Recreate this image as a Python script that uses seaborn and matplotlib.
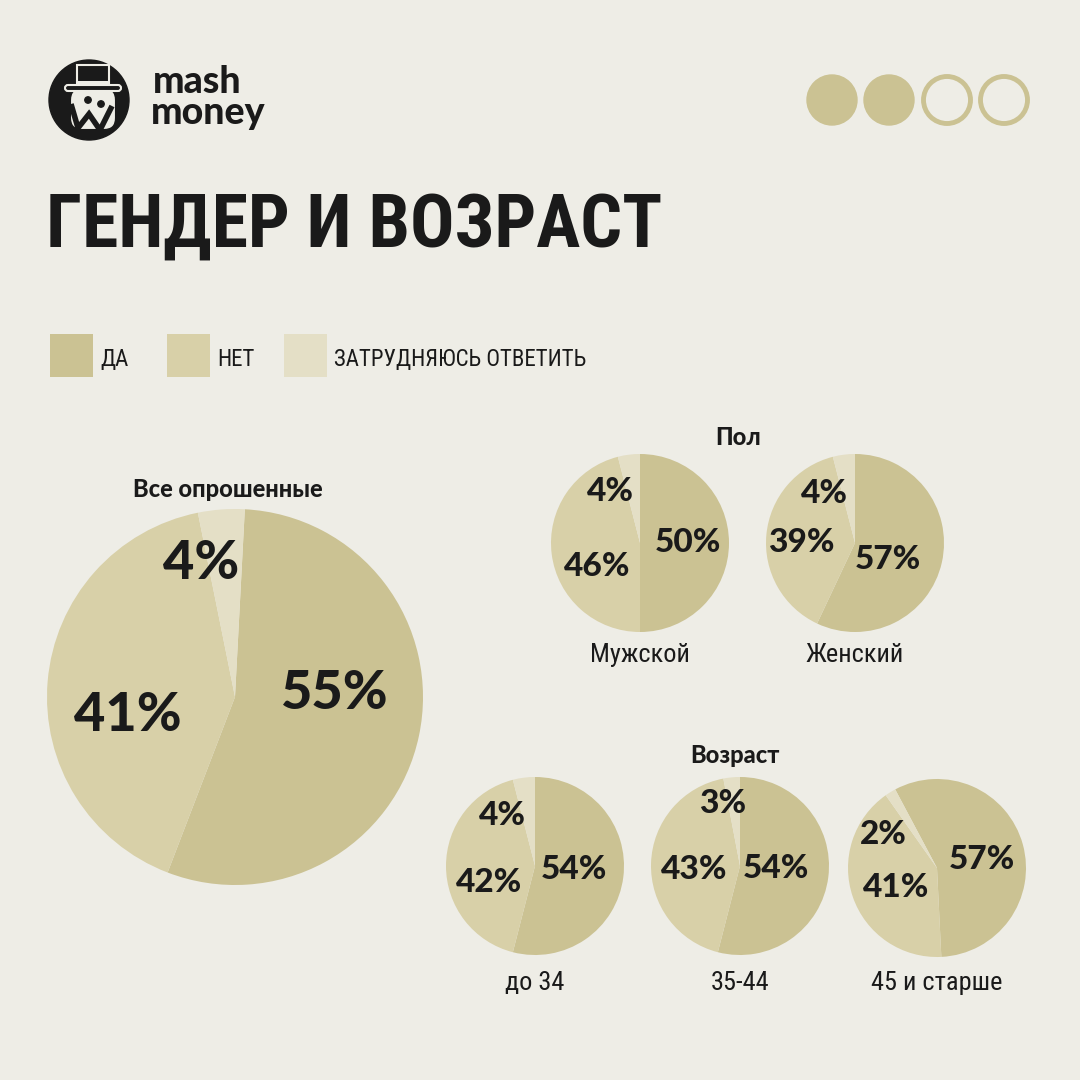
import matplotlib
matplotlib.use("Agg")
import matplotlib.pyplot as plt
import seaborn as sns
from matplotlib import font_manager
from matplotlib.patches import Circle, Rectangle, FancyBboxPatch, Polygon

# ---- data ----
answers = ["ДА", "НЕТ", "ЗАТРУДНЯЮСЬ ОТВЕТИТЬ"]
groups = ["Все опрошенные", "Мужской", "Женский", "до 34", "35-44", "45 и старше"]
yes = [55, 50, 57, 54, 54, 57]
no = [41, 46, 39, 42, 43, 41]
unsure = [4, 4, 4, 4, 3, 2]

BG = "#EEEDE6"
COLORS = ["#CBC293", "#D8D0A8", "#E4DFC6"]
INK = "#1A1A1A"

sns.set_theme(style="white")
installed = {f.name for f in font_manager.fontManager.ttflist}


def pick(*names):
    for n in names:
        if n in installed:
            return n
    return "DejaVu Sans"


NARROW = pick("Liberation Sans Narrow", "Roboto Condensed", "DejaVu Sans Condensed", "DejaVu Sans")
HEAVY = pick("Lato", "Roboto", "DejaVu Sans")
plt.rcParams["font.family"] = [HEAVY, "DejaVu Sans"]

W = H = 1080
fig = plt.figure(figsize=(10.8, 10.8), dpi=100, facecolor=BG)

# full-figure axes in pixel coordinates (y downwards)
bg = fig.add_axes([0, 0, 1, 1])
bg.set_xlim(0, W)
bg.set_ylim(H, 0)
bg.axis("off")
bg.set_facecolor(BG)

# ---- logo ----
bg.add_patch(Circle((89, 100), 40, color=INK, zorder=2))
face = FancyBboxPatch((70, 88), 46, 42, boxstyle="round,pad=0,rounding_size=12",
                      fc=BG, ec=INK, lw=1.5, zorder=3)
bg.add_patch(face)
bg.add_patch(Polygon([(71, 104), (78, 128), (89, 114), (100, 130), (112, 106)],
                     closed=False, fill=False, ec=INK, lw=4, zorder=4))
bg.add_patch(Circle((88, 100), 3.2, color=INK, zorder=4))
bg.add_patch(Circle((101, 104), 3.2, color=INK, zorder=4))
bg.add_patch(Rectangle((77, 65), 32, 22, fc=INK, ec=BG, lw=1.5, zorder=5))
bg.add_patch(FancyBboxPatch((65, 85), 56, 6, boxstyle="round,pad=0,rounding_size=3",
                            fc=INK, ec=BG, lw=1.5, zorder=5))
bg.add_patch(Rectangle((78, 81), 30, 3, fc=BG, ec="none", zorder=6))
bg.text(153, 93, "mash", fontsize=27, fontweight="black", color=INK, va="baseline", ha="left")
bg.text(151, 124, "money", fontsize=27, fontweight="black", color=INK, va="baseline", ha="left")

# ---- page dots ----
for i, x in enumerate([832, 889, 947, 1004]):
    if i < 2:
        bg.add_patch(Circle((x, 100), 25, color=COLORS[0], zorder=2))
    else:
        bg.add_patch(Circle((x, 100), 23.5, fill=False, ec=COLORS[0], lw=3.5, zorder=2))

# ---- title ----
bg.text(46, 247, "ГЕНДЕР И ВОЗРАСТ", fontsize=53, fontweight="bold", family=[NARROW, "DejaVu Sans"],
        color=INK, va="baseline", ha="left")

# ---- legend ----
legend_x = [50, 167, 284]
for x, lab, col in zip(legend_x, answers, COLORS):
    bg.add_patch(Rectangle((x, 334), 43, 43, fc=col, ec="none"))
    bg.text(x + 50, 366, lab, fontsize=16.5, family=[NARROW, "DejaVu Sans"], color=INK,
            va="baseline", ha="left")

# ---- section headings ----
bg.text(228, 497, "Все опрошенные", fontsize=17, fontweight="black", color=INK, ha="center", va="baseline")
bg.text(738, 445, "Пол", fontsize=17, fontweight="black", color=INK, ha="center", va="baseline")
bg.text(735, 763, "Возраст", fontsize=17, fontweight="black", color=INK, ha="center", va="baseline")

# ---- pies ----
centers = [(235, 697), (640, 543), (855, 543), (535, 866), (740, 866), (937, 868)]
radii = [188, 89, 89, 89, 89, 89]
starts = [87, 90, 90, 90, 90, 118]
label_sizes = [39, 24, 24, 24, 24, 24]
# label offsets in units of pie radius (yes, no, unsure)
label_pos = [
    [(0.53, 0.02), (-0.57, -0.10), (-0.18, 0.71)],
    [(0.54, 0.0), (-0.48, -0.26), (-0.33, 0.58)],
    [(0.37, -0.19), (-0.60, 0.0), (-0.34, 0.56)],
    [(0.44, -0.04), (-0.52, -0.18), (-0.37, 0.57)],
    [(0.40, -0.03), (-0.52, -0.04), (-0.20, 0.70)],
    [(0.50, 0.10), (-0.46, -0.22), (-0.60, 0.38)],
]
sub_y = [None, 662, 662, 990, 990, 990]

for i, g in enumerate(groups):
    cx, cy = centers[i]
    r = radii[i]
    ax = fig.add_axes([(cx - r) / W, 1 - (cy + r) / H, 2 * r / W, 2 * r / H])
    vals = [yes[i], no[i], unsure[i]]
    ax.pie(vals, colors=COLORS, startangle=starts[i], counterclock=False,
           wedgeprops=dict(linewidth=0))
    ax.set_xlim(-1, 1)
    ax.set_ylim(-1, 1)
    ax.set_aspect("equal")
    ax.axis("off")
    for v, (dx, dy) in zip(vals, label_pos[i]):
        ax.text(dx, dy, f"{v}%", fontsize=label_sizes[i], fontweight="black",
                color=INK, ha="center", va="center")
    if sub_y[i] is not None:
        bg.text(cx, sub_y[i], g, fontsize=19, family=[NARROW, "DejaVu Sans"],
                color=INK, ha="center", va="baseline")

fig.savefig("out.png", dpi=100, facecolor=BG)
